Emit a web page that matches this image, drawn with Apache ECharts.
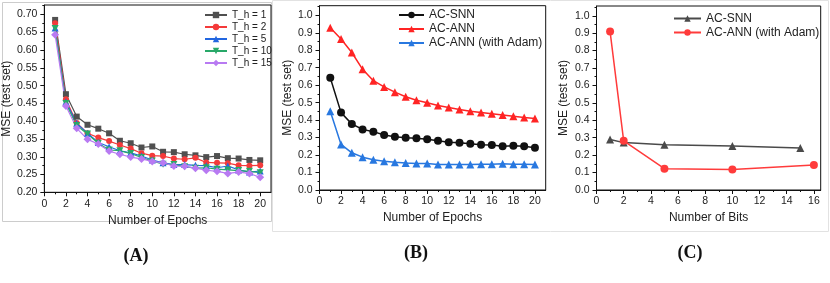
<!DOCTYPE html>
<html><head><meta charset="utf-8">
<script src="https://cdn.jsdelivr.net/npm/echarts@6/dist/echarts.min.js"></script>
<style>html,body{margin:0;padding:0;background:#fff}#c{width:830px;height:283px}</style>
</head><body><div id="c"></div>
<script>
// ---- Data ----
const epochs = [1,2,3,4,5,6,7,8,9,10,11,12,13,14,15,16,17,18,19,20];
// Panel A
const aNames = ['T_h = 1','T_h = 2','T_h = 5','T_h = 10','T_h = 15'];
const aTh1  = [0.685,0.476,0.413,0.390,0.379,0.366,0.345,0.338,0.326,0.329,0.314,0.313,0.307,0.304,0.299,0.302,0.296,0.295,0.291,0.290];
const aTh2  = [0.676,0.462,0.395,0.366,0.354,0.344,0.333,0.323,0.310,0.303,0.302,0.295,0.293,0.297,0.284,0.283,0.282,0.276,0.275,0.276];
const aTh5  = [0.662,0.455,0.394,0.366,0.340,0.328,0.317,0.311,0.302,0.291,0.283,0.278,0.278,0.276,0.275,0.269,0.274,0.263,0.257,0.260];
const aTh10 = [0.661,0.450,0.388,0.364,0.338,0.319,0.317,0.309,0.298,0.288,0.279,0.278,0.272,0.268,0.269,0.265,0.263,0.261,0.259,0.255];
const aTh15 = [0.643,0.443,0.380,0.349,0.336,0.316,0.307,0.299,0.294,0.287,0.283,0.274,0.273,0.268,0.262,0.259,0.253,0.257,0.253,0.242];
// Panel B
const bNames = ['AC-SNN','AC-ANN','AC-ANN (with Adam)'];
const bSNN  = [0.643,0.443,0.378,0.347,0.334,0.315,0.305,0.299,0.296,0.290,0.282,0.273,0.271,0.265,0.259,0.257,0.250,0.253,0.250,0.242];
const bANN  = [0.929,0.864,0.787,0.691,0.626,0.590,0.560,0.534,0.514,0.499,0.484,0.472,0.461,0.451,0.443,0.436,0.430,0.422,0.415,0.409];
const bAdam = [0.451,0.261,0.213,0.188,0.173,0.165,0.159,0.154,0.152,0.152,0.146,0.146,0.146,0.146,0.148,0.148,0.150,0.148,0.148,0.146];
// Panel C
const cNames = ['AC-SNN','AC-ANN (with Adam)'];
const cSNNx = [1,2,5,10,15];
const cSNN  = [0.290,0.272,0.259,0.253,0.241];
const cAdamX = [1,2,5,10,16];
const cAdam = [0.909,0.282,0.122,0.118,0.143];
// Tick labels
const xTicksEpoch = [0,2,4,6,8,10,12,14,16,18,20];
const xTicksBits = [0,2,4,6,8,10,12,14,16];
const yTicksA = [0.20,0.25,0.30,0.35,0.40,0.45,0.50,0.55,0.60,0.65,0.70];
const yTicksBC = [0,0.1,0.2,0.3,0.4,0.5,0.6,0.7,0.8,0.9,1.0];
const panelLabels = ['(A)','(B)','(C)'];

const FONT = 'Liberation Sans, Arial, sans-serif';
const black = '#111';

function xAxis(gi, max, ticks, name, gap) {
  return {
    gridIndex: gi, type: 'value', min: 0, max: max, interval: 2,
    name: name, nameLocation: 'middle', nameGap: gap,
    nameTextStyle: {fontFamily: FONT, fontSize: 12, color: '#222'},
    axisLine: {show: true, onZero: false, lineStyle: {color: black, width: 1}},
    axisTick: {show: true, inside: false, length: 4, customValues: ticks, lineStyle: {color: black}},
    minorTick: {show: true, splitNumber: 2, length: 2, lineStyle: {color: black}},
    axisLabel: {customValues: ticks, margin: 6, fontFamily: FONT, fontSize: 10.5, color: '#222'},
    splitLine: {show: false}
  };
}
function yAxis(gi, min, max, interval, ticks, digits, gap) {
  return {
    gridIndex: gi, type: 'value', min: min, max: max, interval: interval,
    name: 'MSE (test set)', nameLocation: 'middle', nameGap: gap,
    nameTextStyle: {fontFamily: FONT, fontSize: 12, color: '#222'},
    axisLine: {show: true, onZero: false, lineStyle: {color: black, width: 1}},
    axisTick: {show: true, inside: false, length: 4, customValues: ticks, lineStyle: {color: black}},
    minorTick: {show: true, splitNumber: 2, length: 2, lineStyle: {color: black}},
    axisLabel: {customValues: ticks, margin: 7, fontFamily: FONT, fontSize: 10.5, color: '#222',
      formatter: v => v.toFixed(digits)},
    splitLine: {show: false}
  };
}
function line(name, xi, xs, ys, color, symbol, size, rot, width) {
  return {
    name: name, type: 'line', xAxisIndex: xi, yAxisIndex: xi,
    data: xs.map((x, i) => [x, ys[i]]),
    symbol: symbol, symbolSize: size, symbolRotate: rot || 0,
    lineStyle: {color: color, width: width},
    itemStyle: {color: color},
    animation: false
  };
}
function legend(names, left, top, w, fs, gap) {
  return {
    data: names, orient: 'vertical', left: left, top: top, padding: 0,
    itemWidth: w, itemHeight: 8, itemGap: gap,
    textStyle: {fontFamily: FONT, fontSize: fs, color: '#222', lineHeight: fs},
    formatter: n => n.split('|')[1], selectedMode: false
  };
}

const chart = echarts.init(document.getElementById('c'), null, {renderer: 'canvas'});
const gridStyle = {show: true, borderColor: black, borderWidth: 1, backgroundColor: 'transparent'};
chart.setOption({
  animation: false,
  backgroundColor: '#fff',
  grid: [
    Object.assign({left: 41, top: 5, width: 230, height: 187.3}, gridStyle),
    Object.assign({left: 319.5, top: 5.7, width: 226.2, height: 184.3}, gridStyle),
    Object.assign({left: 596.5, top: 6, width: 224.2, height: 184}, gridStyle)
  ],
  xAxis: [
    xAxis(0, 21, xTicksEpoch, 'Number of Epochs', 15),
    xAxis(1, 21, xTicksEpoch, 'Number of Epochs', 20),
    xAxis(2, 16.5, xTicksBits, 'Number of Bits', 20)
  ],
  yAxis: [
    yAxis(0, 0.2, 0.727, 0.05, yTicksA, 2, 28),
    yAxis(1, 0, 1.055, 0.1, yTicksBC, 1, 25),
    yAxis(2, 0, 1.056, 0.1, yTicksBC, 1, 27)
  ],
  legend: [
    legend(aNames.map(n => 'A|' + n), 204, 10, 22, 10, 2),
    legend(bNames.map(n => 'B|' + n), 398, 9, 25, 12, 2),
    legend(cNames.map(n => 'C|' + n), 673, 12.5, 27, 12, 2)
  ],
  series: [
    line('A|' + aNames[0], 0, epochs, aTh1, '#505050', 'rect', 6, 0, 1.2),
    line('A|' + aNames[1], 0, epochs, aTh2, '#f43a3a', 'circle', 6, 0, 1.2),
    line('A|' + aNames[2], 0, epochs, aTh5, '#2266e0', 'triangle', 7, 0, 1.2),
    line('A|' + aNames[3], 0, epochs, aTh10, '#28a868', 'triangle', 7, 180, 1.2),
    line('A|' + aNames[4], 0, epochs, aTh15, '#b87af2', 'diamond', 8, 0, 1.2),
    line('B|' + bNames[0], 1, epochs, bSNN, '#111111', 'circle', 8, 0, 1.5),
    line('B|' + bNames[1], 1, epochs, bANN, '#ff2424', 'triangle', 8, 0, 1.5),
    line('B|' + bNames[2], 1, epochs, bAdam, '#2878e0', 'triangle', 8, 0, 1.5),
    line('C|' + cNames[0], 2, cSNNx, cSNN, '#4a4a4a', 'triangle', 8, 0, 1.5),
    line('C|' + cNames[1], 2, cAdamX, cAdam, '#ff3b3b', 'circle', 8, 0, 1.5)
  ],
  graphic: [
    {type: 'rect', shape: {x: 2.5, y: 2.5, width: 269, height: 219}, style: {fill: 'none', stroke: '#cccccc', lineWidth: 1}, z: -1},
    {type: 'rect', shape: {x: 272.5, y: 0.5, width: 556, height: 231}, style: {fill: 'none', stroke: '#e2e2e2', lineWidth: 1}, z: -1},
    {type: 'text', x: 136, y: 256, style: {text: panelLabels[0], font: 'bold 18px "Liberation Serif", serif', fill: '#111', align: 'center', verticalAlign: 'middle'}},
    {type: 'text', x: 416, y: 253, style: {text: panelLabels[1], font: 'bold 18px "Liberation Serif", serif', fill: '#111', align: 'center', verticalAlign: 'middle'}},
    {type: 'text', x: 690, y: 253, style: {text: panelLabels[2], font: 'bold 18px "Liberation Serif", serif', fill: '#111', align: 'center', verticalAlign: 'middle'}}
  ]
});
</script>
</body></html>
